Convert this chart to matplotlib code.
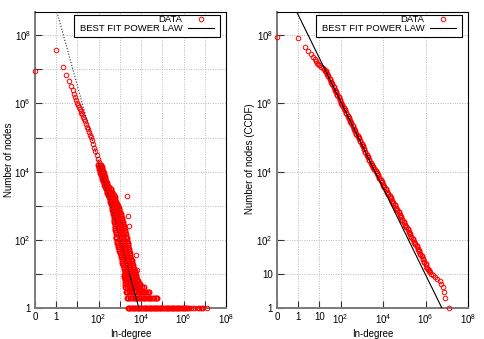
import numpy as np
import matplotlib
matplotlib.use('Agg')
from matplotlib import pyplot as plt
from matplotlib.patches import Rectangle

plt.rcParams['font.family'] = ['Liberation Sans', 'DejaVu Sans']
plt.rcParams['mathtext.fontset'] = 'custom'
plt.rcParams['mathtext.rm'] = 'Liberation Sans'
plt.rcParams['mathtext.it'] = 'Liberation Sans:italic'
plt.rcParams['mathtext.bf'] = 'Liberation Sans:bold'
FS = 7.0
plt.rcParams['font.size'] = FS

# ---- left panel: in-degree distribution ----
# low degrees, one point per degree (degree 0 sits on the "0" tick)
seq_deg = [0, 1, 2, 3, 4, 5, 6, 7, 8, 9, 10, 11, 12, 13, 14, 15, 16, 18, 20, 22,
           25, 28, 32, 36, 40, 45, 50, 56, 63, 70, 80, 90, 100]
seq_cnt = [8.9e6, 3.7e7, 1.2e7, 6.8e6, 4.6e6, 3.2e6, 2.45e6, 1.9e6, 1.5e6, 1.23e6,
           1.0e6, 8.7e5, 7.6e5, 6.7e5, 6.0e5, 5.4e5, 4.9e5, 4.1e5, 3.5e5, 3.0e5,
           2.5e5, 2.1e5, 1.73e5, 1.44e5, 1.22e5, 1.02e5, 8.3e4, 6.5e4, 5.0e4, 4.0e4,
           3.0e4, 2.35e4, 1.86e4]

# noisy part of the cloud, read row by row (count -> degrees seen at that count)
band_cnt = [16000, 14000, 12000, 10500, 9000, 8000, 7000, 6000, 5200, 4500,
            4000, 3500, 3000, 2600, 2300, 2000, 1750, 1500, 1300, 1150,
            1000, 870, 760, 660, 580, 500, 440, 380, 330, 290,
            250, 220, 190, 165, 145, 125, 110, 95, 83, 72,
            63, 55, 48, 42, 36, 31, 27, 24, 21, 18,
            16, 14, 12, 11, 10]
band_deg = [
    [98, 112, 126], [102, 117, 138], [107, 126, 151], [112, 135, 162],
    [120, 145, 174], [129, 155, 186], [138, 166, 195], [148, 178, 209],
    [162, 191, 224], [174, 204, 240], [186, 219, 257], [200, 245, 302],
    [214, 257, 309, 372], [234, 282, 339, 407], [251, 302, 363, 447],
    [275, 339, 407, 501], [295, 363, 457, 562], [324, 398, 501, 617],
    [355, 447, 550, 692], [380, 479, 603, 759], [417, 525, 676, 851],
    [437, 550, 708, 891], [447, 575, 741, 955], [468, 603, 776, 1000],
    [479, 631, 813, 1070], [501, 661, 851, 1120], [513, 676, 912, 1200],
    [537, 724, 955, 1290], [550, 741, 1020, 1380], [575, 776, 1070, 1450],
    [589, 813, 1100, 1510], [603, 832, 1170, 1620], [617, 871, 1200, 1700],
    [646, 912, 1290, 1820], [661, 933, 1350, 1910], [676, 977, 1380, 2000],
    [692, 1000, 1450, 2090], [724, 1050, 1510, 2190], [759, 1100, 1580, 2290],
    [813, 1170, 1660, 2400], [851, 1230, 1740, 2510], [891, 1290, 1820, 2630],
    [955, 1350, 1950, 2750], [1000, 1410, 2040, 2880], [1070, 1510, 2140, 3020],
    [1120, 1580, 2240, 3160], [1200, 1700, 2400, 3390], [1260, 1780, 2510, 3550],
    [1320, 1860, 2690, 3800], [1410, 2000, 2880, 4070], [1480, 2090, 3020, 4270],
    [1550, 2240, 3160, 4570], [1660, 2400, 3390, 4900], [1700, 2450, 3470, 5010],
    [1780, 2570, 3630, 5250],
]
out_deg = [2140, 2340, 2750, 3550, 6030, 6610]
out_cnt = [1900, 500, 257, 26, 35, 13]

# small counts form flat rows
low_cnt = [1, 2, 3, 4, 5, 6, 7, 8, 9]
low_deg = [
    [2300, 2750, 3300, 4000, 4800, 5750, 6900, 8300, 10000, 12000, 14500, 17400,
     21000, 25000, 30000, 36000, 43600, 52500, 63000, 76000, 91000, 110000,
     132000, 158000, 190000, 229000, 275000, 331000, 398000, 479000, 575000,
     692000, 832000, 1000000],
    [2100, 2500, 3000, 3600, 4400, 5200, 6300, 7600, 9100, 11000, 13200, 15800,
     19000, 22900, 27500, 33000, 39800, 47900, 57500],
    [1900, 2250, 2700, 3250, 3900, 4700, 5600, 6800, 8100, 9800, 11700, 14100,
     16900, 20300, 23400],
    [1800, 2150, 2600, 3100, 3700, 4500, 5400, 6500, 7800, 9300, 11200, 13800],
    [1800, 2150, 2600, 3100, 3700, 4500, 5400, 6500, 7800, 8900],
    [1700, 2050, 2450, 2950, 3550, 4250, 5100, 6100, 7100],
    [1650, 2000, 2400, 2900, 3450, 4150, 5000, 6300],
    [1600, 1900, 2300, 2750, 3300, 4000, 4800, 6000],
    [1500, 1800, 2150, 2600, 3100, 3700, 4500, 5600],
]

# the biggest hubs (each one node)
top_deg = [1.25e7, 8.7e6, 7.8e6, 6.9e6, 5.5e6, 4.7e6, 3.55e6, 2.8e6, 2.15e6,
           1.86e6, 1.66e6, 1.5e6, 1.38e6, 1.29e6, 1.17e6, 1.07e6]
top_ccdf = [1, 2, 3, 4, 5, 6, 7, 8, 9, 10, 11, 12, 13, 14, 15, 16]

# ---- right panel: CCDF ----
ccdf_deg = [0, 1, 2, 3, 4, 5, 6, 7, 8, 9, 10, 12, 14, 16, 18,
            20, 23, 26, 30, 35, 40, 46, 53, 60, 70, 80, 92, 105, 120, 140, 160,
            185, 210, 240, 280, 320, 370, 420, 480, 550, 640, 730, 840, 970, 1100,
            1270, 1460, 1680, 1930, 2200, 2550, 2900, 3350, 3850, 4400, 5100, 5800,
            6700, 7700, 8800, 10100, 11600, 13400, 15400, 17700, 20300, 23300, 26800,
            30800, 35400, 40700, 46800, 53800, 61800, 71000, 81700, 94000, 108000,
            124000, 143000, 164000, 188000, 216000, 249000, 286000, 329000, 378000,
            435000, 500000, 575000, 661000, 760000, 875000, 1000000]
ccdf_val = [9.0e7, 8.1e7, 4.6e7, 3.45e7, 2.75e7, 2.35e7, 1.95e7, 1.74e7, 1.58e7,
            1.45e7, 1.35e7, 1.2e7, 1.1e7, 1.0e7, 9.1e6,
            8.7e6, 7.3e6, 6.3e6, 5.2e6, 4.3e6, 3.6e6, 3.0e6, 2.55e6, 2.15e6, 1.78e6,
            1.5e6, 1.26e6, 1.06e6, 9.0e5, 7.4e5, 6.2e5, 5.2e5, 4.4e5, 3.7e5, 3.05e5,
            2.6e5, 2.15e5, 1.82e5, 1.55e5, 1.31e5, 1.12e5, 9.5e4, 8.0e4, 6.6e4, 5.6e4,
            4.6e4, 3.8e4, 3.15e4, 2.63e4, 2.22e4, 1.85e4, 1.6e4, 1.37e4, 1.2e4, 1.05e4,
            8.9e3, 7.8e3, 6.6e3, 5.7e3, 4.9e3, 4.1e3, 3.55e3, 3.0e3, 2.58e3, 2.22e3,
            1.9e3, 1.64e3, 1.4e3, 1.2e3, 1.03e3, 860, 740, 634, 531, 456,
            390, 326, 281, 240, 201, 173, 145, 124, 104, 89,
            75, 64, 54, 46, 38, 33, 28, 23, 20]

# fitted power laws: y = c * x^-a
pdf_c, pdf_alpha, pdf_xmin = 5.8e8, 2.25, 2800
ccdf_c, ccdf_alpha = 3.94e8, 1.27


def deg_pos(d):
    d = np.asarray(d, dtype=float)
    return np.where(d == 0, 0.1, d)  # zero is drawn at the '0' tick


RED = '#ff0000'
thin = dict(linestyle='none', marker='o', mfc='none', mec=RED, ms=3.3, mew=0.7,
            clip_on=False, zorder=3)
bold = dict(thin, mew=1.05)  # where points pile up the cloud reads as solid red

fig = plt.figure(figsize=(4.85, 3.39), dpi=100)
ax1 = fig.add_axes([35 / 485, 31 / 339, 191 / 485, 296 / 339])
ax2 = fig.add_axes([277 / 485, 31 / 339, 191 / 485, 296 / 339])

# left data
h_data, = ax1.plot(deg_pos(seq_deg), seq_cnt, **thin)
ax1.plot(out_deg, out_cnt, **thin)
ax1.plot(top_deg, [1] * len(top_deg), **thin)
dx, dy = [], []
for c, ds in zip(band_cnt, band_deg):
    dx += ds
    dy += [c] * len(ds)
for c, ds in zip(low_cnt, low_deg):
    dx += ds
    dy += [c] * len(ds)
ax1.plot(dx, dy, **bold)

xf = np.logspace(0, 5, 300)
yf = pdf_c * xf ** -pdf_alpha
ax1.plot(xf[xf < pdf_xmin], yf[xf < pdf_xmin], color='#303030', lw=0.8,
         linestyle=(0, (1, 1.6)), zorder=4)
h_fit, = ax1.plot(xf[xf >= pdf_xmin * 0.98], yf[xf >= pdf_xmin * 0.98],
                  color='black', lw=0.8, zorder=4)

# right data
cd = np.asarray(ccdf_deg, dtype=float)
cv = np.asarray(ccdf_val, dtype=float)
h_data2, = ax2.plot(deg_pos(cd[cd < 20]), cv[cd < 20], **thin)
ax2.plot(cd[cd >= 20], cv[cd >= 20], **bold)
ax2.plot(top_deg, top_ccdf, **thin)
xf2 = np.logspace(-0.5, 8, 300)
h_fit2, = ax2.plot(xf2, ccdf_c * xf2 ** -ccdf_alpha, color='black', lw=0.8, zorder=4)

for ax in (ax1, ax2):
    ax.set_xscale('log')
    ax.set_yscale('log')
    ax.set_xlim(0.1, 1e8)
    ax.set_ylim(1, 4.8e8)
    ax.xaxis.set_minor_locator(matplotlib.ticker.NullLocator())
    ax.yaxis.set_minor_locator(matplotlib.ticker.NullLocator())
    ax.tick_params(direction='in', length=5, width=0.8, color='#333333',
                   labelsize=FS, pad=3)
    ax.grid(True, linestyle=(0, (1, 1.5)), color='#b8b8b8', linewidth=0.7)
    ax.set_axisbelow(True)
    for s in ('top', 'right'):
        ax.spines[s].set_color('black')
        ax.spines[s].set_linewidth(0.8)
    for s in ('left', 'bottom'):
        ax.spines[s].set_color('#7a7a7a')
        ax.spines[s].set_linewidth(1.4)
    ax.set_xlabel('In-degree', fontsize=FS)
    ax.xaxis.set_label_coords(0.5, -0.071)

ax1.set_xticks([0.1, 1, 10, 1e2, 1e3, 1e4, 1e5, 1e6, 1e7, 1e8])
ax1.set_xticklabels(['0', '1', '', '$10^2$', '', '$10^4$', '', '$10^6$', '', '$10^8$'])
ax1.set_yticks([1, 10, 1e2, 1e3, 1e4, 1e5, 1e6, 1e7, 1e8])
ax1.set_yticklabels(['1', '', '$10^2$', '', '$10^4$', '', '$10^6$', '', '$10^8$'])
ax1.set_ylabel('Number of nodes', fontsize=FS)
ax1.yaxis.set_label_coords(-0.11, 0.5)

ax2.set_xticks([0.1, 1, 10, 1e2, 1e4, 1e6, 1e8])
ax2.set_xticklabels(['0', '1', '10', '$10^2$', '$10^4$', '$10^6$', '$10^8$'])
ax2.set_yticks([1, 10, 1e2, 1e4, 1e6, 1e8])
ax2.set_yticklabels(['1', '10', '$10^2$', '$10^4$', '$10^6$', '$10^8$'])
ax2.set_ylabel('Number of nodes (CCDF)', fontsize=FS)
ax2.yaxis.set_label_coords(-0.113, 0.505)

for ax, hd, hf in ((ax1, h_data, h_fit), (ax2, h_data2, h_fit2)):
    box = Rectangle((0.204, 0.916), 0.762, 0.074, transform=ax.transAxes,
                    facecolor='white', edgecolor='black', lw=0.8, zorder=9,
                    clip_on=False)
    ax.add_patch(box)
    leg = ax.legend([hd, hf], ['DATA', 'BEST FIT POWER LAW'], loc='upper right',
                    bbox_to_anchor=(0.937, 0.989), borderaxespad=0, markerfirst=False,
                    frameon=False, handlelength=2.74, handletextpad=0.59,
                    labelspacing=0.0, borderpad=0.0, fontsize=6.8)
    leg.set_zorder(10)

plt.savefig('out.png', dpi=100)
